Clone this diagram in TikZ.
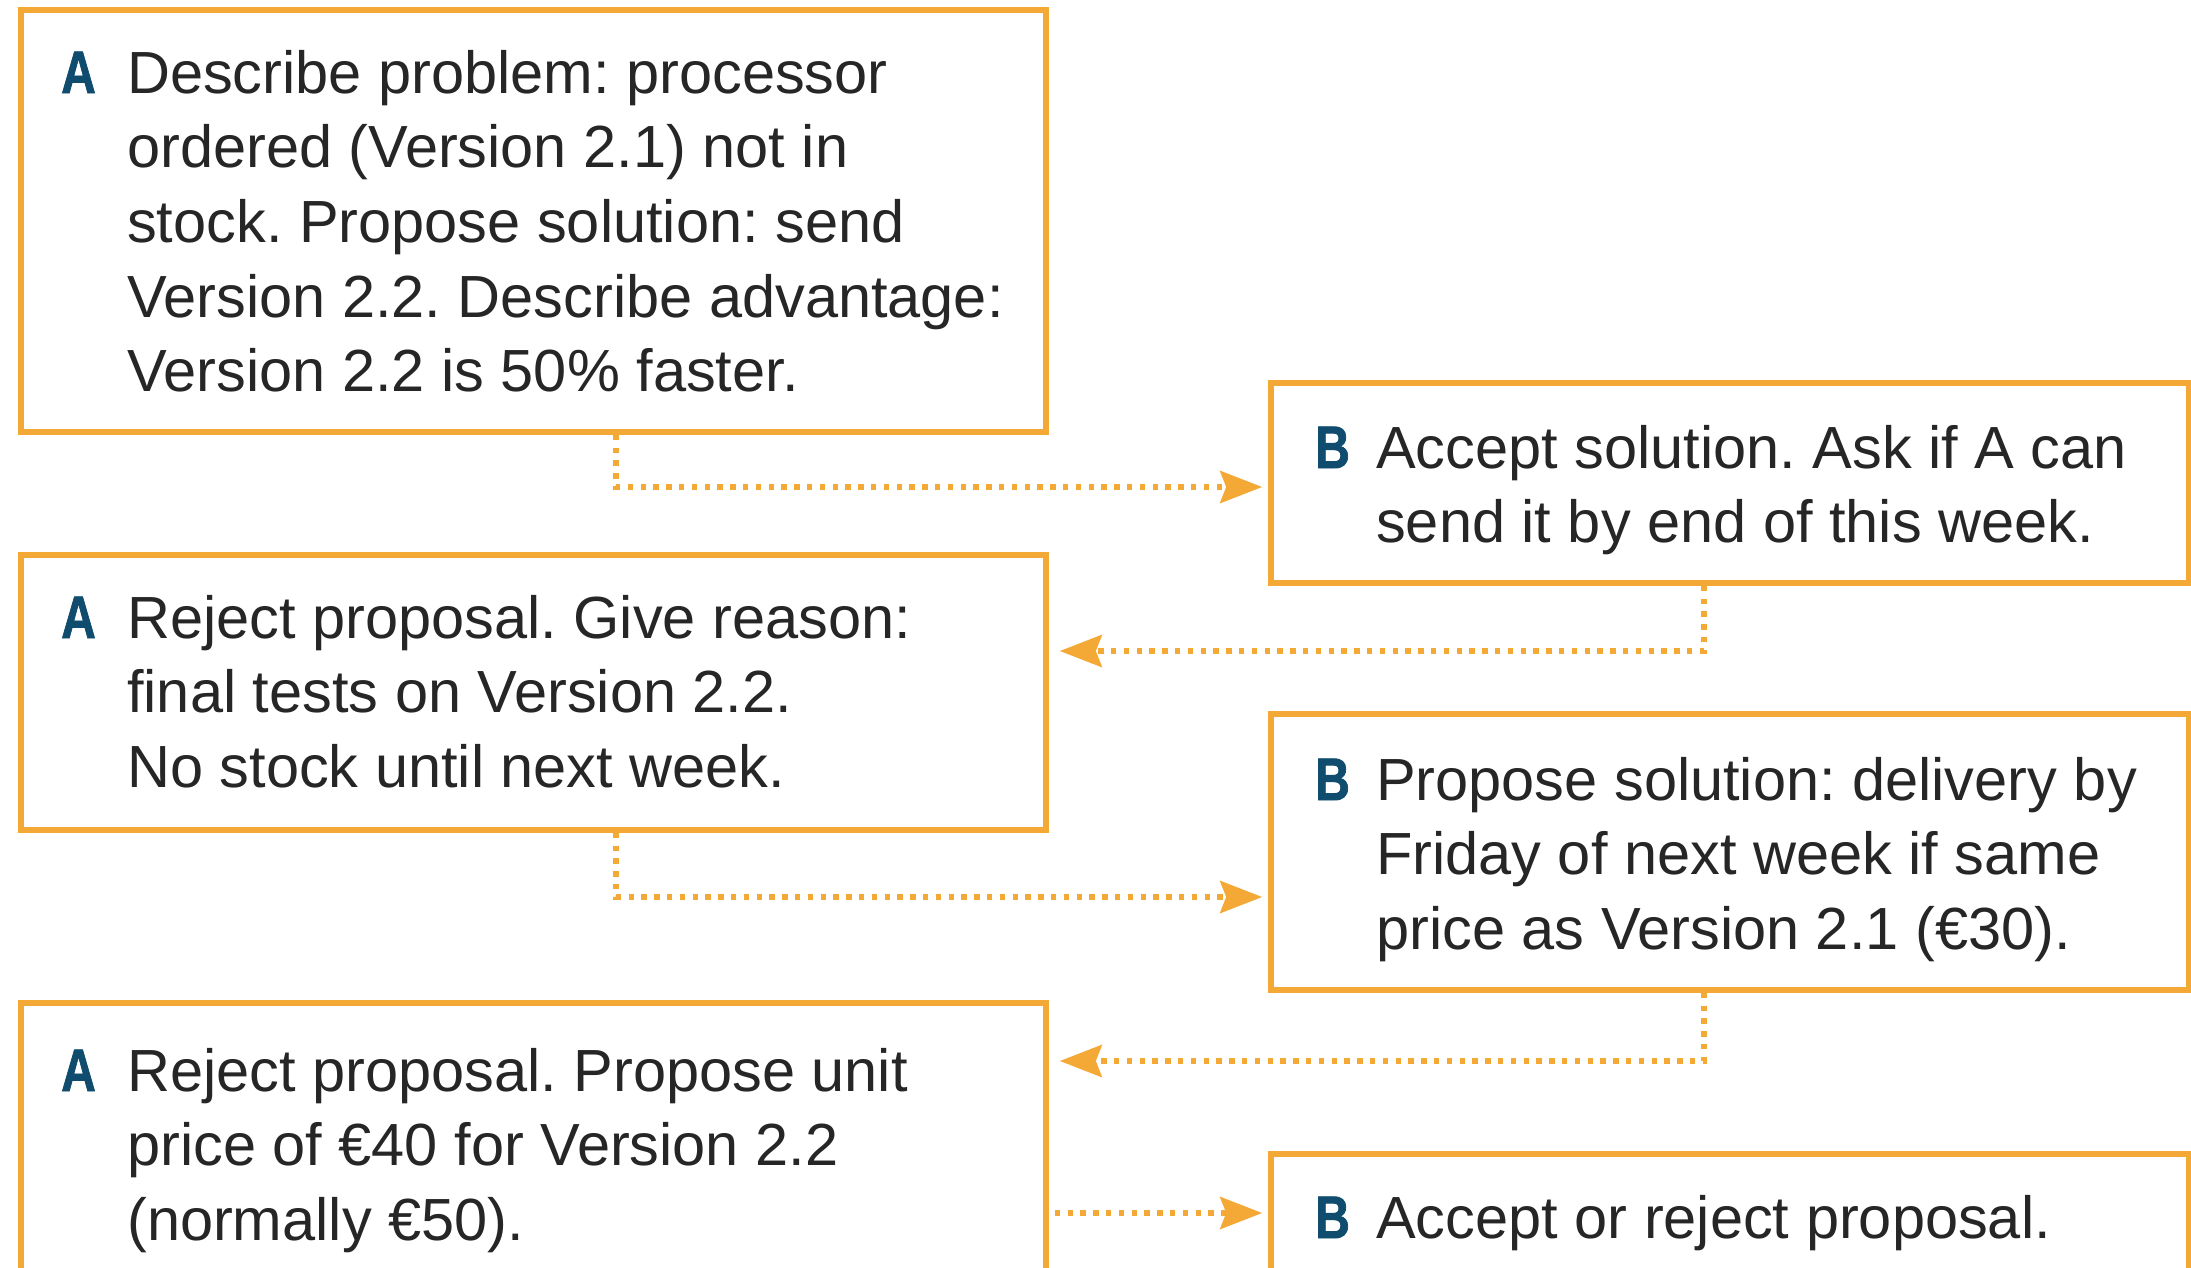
\documentclass[tikz,border=0pt]{standalone}
\usepackage{fontspec}
\setmainfont{Liberation Sans}
\newfontfamily\labelfont[FakeBold=1.5]{Liberation Sans Bold}
\usetikzlibrary{arrows.meta}
\definecolor{boxorange}{RGB}{244,168,53}
\definecolor{labelblue}{RGB}{15,76,110}
\definecolor{bodytext}{RGB}{38,38,38}
\frenchspacing
\begin{document}
\begin{tikzpicture}[x=1pt,y=-1pt,
  box/.style={draw=boxorange, line width=5.6pt, rectangle, inner sep=0pt},
  lab/.style={anchor=base west, inner sep=0pt, text=labelblue, font=\fontsize{60}{74.7}\selectfont\labelfont},
  body/.style={anchor=base west, inner sep=0pt, text=bodytext, font=\fontsize{59.5}{74.7}\selectfont\frenchspacing},
  conn/.style={draw=boxorange, line width=5.4pt, dash pattern=on 5.4pt off 7.4pt, -{Stealth[length=42pt,width=32pt,inset=6pt]}}
]
\path[use as bounding box, fill=white] (0,0) rectangle (2191,1267);
\clip (0,0) rectangle (2191,1267);

% boxes
\node[box, minimum width=1025pt, minimum height=422pt] (a1) at (533.5,221) {};
\node[box, minimum width=1025pt, minimum height=275pt] (a2) at (533.5,692.5) {};
\node[box, minimum width=1025pt, minimum height=317pt] (a3) at (533.5,1161.5) {};
\node[box, minimum width=918pt, minimum height=200pt] (b1) at (1730,483) {};
\node[box, minimum width=918pt, minimum height=276pt] (b2) at (1730,852) {};
\node[box, minimum width=918pt, minimum height=166pt] (b3) at (1730,1237) {};

% texts
\node[lab] (la1) at (61,93) {\scalebox{0.8}[1]{A}};
\node[body] (ta1) at (127,93) {\vtop{\hbox{Describe problem: processor}\hbox{ordered (Version 2.1) not in}\hbox{stock. Propose solution: send}\hbox{Version 2.2. Describe advantage:}\hbox{Version 2.2 is 50\% faster.}}};
\node[lab] (lb1) at (1315,468) {\scalebox{0.8}[1]{B}};
\node[body] (tb1) at (1376,468) {\vtop{\hbox{Accept solution. Ask if A can}\hbox{send it by end of this week.}}};
\node[lab] (la2) at (61,638) {\scalebox{0.8}[1]{A}};
\node[body] (ta2) at (127,638) {\vtop{\hbox{Reject proposal. Give reason:}\hbox{final tests on Version 2.2.}\hbox{No stock until next week.}}};
\node[lab] (lb2) at (1315,800) {\scalebox{0.8}[1]{B}};
\node[body] (tb2) at (1376,800) {\vtop{\hbox{Propose solution: delivery by}\hbox{Friday of next week if same}\hbox{price as Version 2.1 (€30).}}};
\node[lab] (la3) at (61,1091) {\scalebox{0.8}[1]{A}};
\node[body] (ta3) at (127,1091) {\vtop{\hbox{Reject proposal. Propose unit}\hbox{price of €40 for Version 2.2}\hbox{(normally €50).}}};
\node[lab] (lb3) at (1315,1238) {\scalebox{0.8}[1]{B}};
\node[body] (tb3) at (1376,1238) {Accept or reject proposal.};

% connectors
\coordinate (c1) at (616,487);
\coordinate (c2) at (1704,651);
\coordinate (c3) at (616,897);
\coordinate (c4) at (1704,1061);
\coordinate (c5) at (1055,1213);
\draw[conn, shorten >=6pt] (a1.south -| c1) -- (c1) -- (b1.west |- c1);
\draw[conn, shorten >=11pt] (b1.south -| c2) -- (c2) -- (a2.east |- c2);
\draw[conn, shorten >=6pt] (a2.south -| c3) -- (c3) -- (b2.west |- c3);
\draw[conn, shorten >=11pt] (b2.south -| c4) -- (c4) -- (a3.east |- c4);
\draw[conn, shorten <=6pt, shorten >=6pt] (a3.east |- c5) -- (b3.west |- c5);
\end{tikzpicture}
\end{document}
